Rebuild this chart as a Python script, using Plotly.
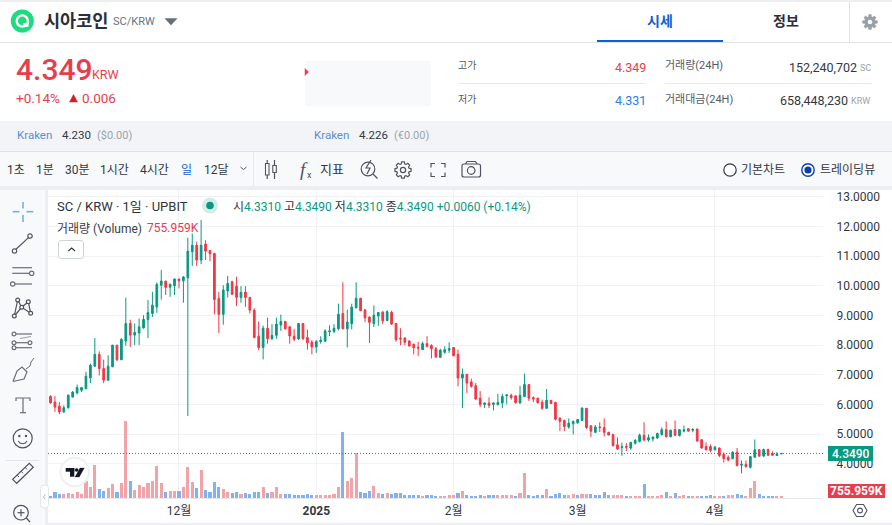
import math
import pandas as pd
import plotly.graph_objects as go

W, H = 892, 525
FONT = "Roboto, 'Noto Sans CJK KR', sans-serif"

# --- data ---
first_day = "2024-11-02"
opens = [
    6.27, 6.08, 5.94, 5.75, 5.89, 6.25, 6.39, 6.48, 6.53, 6.90,
    7.29, 7.69, 7.21, 6.82, 7.27, 8.00, 7.51, 8.14, 8.73, 8.34,
    8.41, 8.58, 8.86, 9.07, 9.29, 10.02, 10.16, 9.95, 10.00, 10.23,
    10.17, 10.27, 11.15, 11.37, 10.87, 11.41, 11.19, 11.09, 9.57, 9.04,
    9.83, 10.14, 9.99, 9.61, 9.79, 9.61, 9.18, 8.30, 7.92, 8.57,
    8.22, 8.33, 8.68, 8.80, 8.62, 8.30, 8.21, 8.73, 8.26, 8.10,
    7.94, 8.12, 8.13, 8.45, 8.46, 8.55, 9.07, 8.55, 8.72, 9.26,
    9.58, 9.19, 8.95, 8.73, 8.98, 9.12, 8.83, 9.11, 8.73, 8.24,
    8.24, 8.14, 8.03, 7.93, 7.85, 8.05, 7.99, 7.88, 7.59, 7.76,
    7.83, 7.92, 7.69, 6.89, 7.02, 6.76, 6.63, 6.21, 6.00, 6.05,
    6.00, 5.99, 6.05, 6.29, 6.31, 6.29, 6.05, 6.27, 6.67, 6.23,
    6.21, 6.07, 5.87, 6.14, 6.07, 5.54, 5.46, 5.24, 5.35, 5.38,
    5.46, 5.87, 5.28, 5.06, 5.24, 5.22, 5.06, 4.99, 4.64, 4.55,
    4.58, 4.53, 4.69, 4.75, 4.96, 4.80, 4.84, 4.87, 4.98, 5.15,
    4.91, 5.15, 4.95, 5.10, 5.18, 5.13, 5.17, 4.81, 4.58, 4.58,
    4.47, 4.53, 4.32, 4.22, 4.17, 4.39, 3.95, 3.98, 3.88, 4.22,
    4.47, 4.26, 4.48, 4.34, 4.28, 4.331,
]
highs = [
    6.31, 6.28, 6.08, 5.97, 6.34, 6.45, 6.67, 6.59, 7.10, 7.38,
    8.24, 7.79, 7.51, 7.66, 8.01, 8.01, 8.24, 9.60, 8.86, 8.73,
    8.90, 9.01, 9.52, 9.80, 10.11, 10.53, 10.17, 10.08, 10.25, 10.25,
    10.33, 11.62, 11.77, 11.49, 12.22, 11.54, 11.20, 11.12, 9.80, 10.02,
    10.34, 10.17, 10.31, 9.99, 9.99, 9.63, 9.24, 8.80, 8.66, 8.93,
    8.71, 8.93, 9.03, 8.82, 8.64, 8.55, 8.75, 8.75, 8.53, 8.17,
    8.17, 8.30, 8.54, 8.67, 8.71, 9.40, 10.12, 9.20, 9.40, 10.12,
    9.60, 9.21, 8.97, 9.34, 9.12, 9.14, 9.18, 9.16, 8.75, 8.57,
    8.27, 8.17, 8.05, 8.11, 8.12, 8.30, 8.03, 7.94, 7.88, 7.96,
    8.10, 7.94, 7.85, 7.21, 7.02, 6.87, 6.72, 6.45, 6.07, 6.24,
    6.07, 6.36, 6.36, 6.34, 6.36, 6.31, 6.63, 7.04, 6.69, 6.27,
    6.23, 6.16, 6.52, 6.14, 6.09, 5.56, 5.49, 5.53, 5.46, 5.51,
    5.90, 5.88, 5.31, 5.31, 5.40, 5.53, 5.08, 5.01, 4.89, 4.71,
    4.70, 4.74, 4.83, 5.02, 5.40, 4.99, 4.92, 5.05, 5.23, 5.43,
    5.15, 5.46, 5.17, 5.29, 5.20, 5.19, 5.19, 4.83, 4.72, 4.65,
    4.60, 4.55, 4.38, 4.28, 4.42, 4.53, 4.11, 4.11, 4.26, 4.82,
    4.50, 4.51, 4.51, 4.42, 4.39, 4.349,
]
lows = [
    6.03, 5.75, 5.67, 5.71, 5.86, 6.23, 6.34, 6.42, 6.53, 6.72,
    7.27, 6.98, 6.72, 6.79, 7.26, 7.46, 7.49, 7.98, 7.94, 8.00,
    8.00, 8.56, 8.24, 8.95, 9.09, 9.54, 9.69, 9.63, 9.69, 9.91,
    9.43, 5.61, 10.67, 10.67, 10.73, 10.87, 10.83, 9.04, 8.41, 8.69,
    9.61, 9.69, 9.32, 9.43, 9.29, 9.07, 8.23, 7.83, 7.52, 8.05,
    8.17, 8.22, 8.48, 8.53, 8.05, 8.13, 8.17, 8.17, 7.85, 7.69,
    7.74, 8.05, 8.12, 8.30, 8.41, 8.50, 8.54, 7.92, 8.53, 9.24,
    9.15, 8.78, 8.07, 8.61, 8.65, 8.71, 8.81, 8.68, 8.12, 8.00,
    8.00, 7.96, 7.69, 7.64, 7.83, 7.92, 7.55, 7.58, 7.57, 7.71,
    7.74, 7.63, 6.61, 5.88, 6.39, 6.57, 6.16, 5.91, 5.88, 5.88,
    5.80, 5.97, 5.87, 6.00, 6.16, 6.03, 6.03, 6.25, 6.12, 6.08,
    6.03, 5.82, 5.86, 6.02, 5.46, 5.10, 5.10, 5.18, 4.99, 5.35,
    5.45, 5.18, 4.90, 5.04, 5.07, 4.92, 4.95, 4.58, 4.47, 4.27,
    4.43, 4.47, 4.65, 4.72, 4.77, 4.74, 4.75, 4.84, 4.96, 4.89,
    4.89, 4.93, 4.92, 5.06, 5.09, 5.06, 4.73, 4.51, 4.45, 4.39,
    4.45, 4.22, 4.04, 4.08, 4.15, 3.91, 3.68, 3.88, 3.84, 4.20,
    4.23, 4.23, 4.26, 4.27, 4.26, 4.331,
]
closes = [
    6.05, 5.91, 5.75, 5.89, 6.31, 6.42, 6.57, 6.57, 6.95, 7.32,
    7.69, 7.21, 6.82, 7.29, 8.00, 7.51, 8.19, 8.73, 8.34, 8.43,
    8.62, 8.87, 9.10, 9.35, 10.05, 10.16, 9.95, 10.05, 10.23, 10.17,
    10.30, 11.17, 11.37, 10.87, 11.37, 11.17, 11.08, 9.54, 9.04, 9.86,
    10.08, 9.72, 9.61, 9.78, 9.61, 9.18, 8.26, 7.92, 8.57, 8.22,
    8.33, 8.71, 8.80, 8.55, 8.31, 8.20, 8.73, 8.22, 8.08, 7.94,
    8.12, 8.17, 8.48, 8.48, 8.57, 9.04, 8.55, 8.78, 9.28, 9.58,
    9.16, 8.92, 8.77, 9.01, 9.10, 8.82, 9.13, 8.71, 8.18, 8.21,
    8.10, 7.97, 7.91, 7.90, 8.05, 7.96, 7.88, 7.60, 7.83, 7.85,
    7.88, 7.64, 6.89, 7.02, 6.72, 6.61, 6.18, 6.00, 6.05, 5.97,
    6.05, 6.07, 6.27, 6.32, 6.23, 6.06, 6.31, 6.67, 6.21, 6.18,
    6.06, 5.87, 6.14, 6.03, 5.50, 5.43, 5.26, 5.37, 5.43, 5.49,
    5.88, 5.22, 5.10, 5.24, 5.22, 5.06, 4.97, 4.61, 4.50, 4.57,
    4.56, 4.72, 4.79, 4.96, 4.80, 4.88, 4.90, 5.02, 5.15, 4.91,
    5.13, 4.96, 5.15, 5.14, 5.10, 5.16, 4.77, 4.53, 4.47, 4.45,
    4.56, 4.28, 4.17, 4.13, 4.39, 3.94, 3.98, 3.90, 4.24, 4.47,
    4.26, 4.48, 4.29, 4.29, 4.33, 4.349,
]
# volume in millions of SC
volumes = [
    1.5, 3.6, 2.5, 2.5, 3.2, 2.7, 3.6, 2.7, 10.5, 6.7,
    20.6, 5.7, 4.6, 6.5, 8.8, 3.6, 9.5, 48.7, 10.9, 5.3,
    8.2, 7.1, 9.2, 10.9, 20.2, 9.2, 3.6, 4.2, 4.6, 4.2,
    7.1, 19.5, 10.1, 6.5, 17.9, 5.3, 3.6, 9.9, 7.1, 5.7,
    3.8, 3.2, 3.8, 2.7, 3.2, 2.7, 3.8, 3.8, 7.1, 3.2,
    3.8, 7.1, 2.7, 2.7, 2.7, 2.1, 2.1, 2.1, 2.7, 2.1,
    1.7, 2.1, 2.1, 2.1, 2.7, 7.1, 41.8, 10.9, 12.8, 28.1,
    3.8, 3.2, 4.2, 7.8, 3.2, 2.7, 3.2, 2.7, 3.2, 3.2,
    2.1, 2.1, 2.1, 2.1, 1.5, 2.1, 2.1, 1.5, 1.3, 1.3,
    1.7, 1.7, 2.9, 4.2, 1.7, 1.3, 1.3, 1.7, 1.3, 1.7,
    1.7, 1.7, 1.7, 1.7, 1.7, 1.3, 3.4, 16.0, 2.1, 1.5,
    1.7, 1.7, 5.7, 1.3, 2.7, 2.9, 2.1, 2.1, 2.5, 1.7,
    2.5, 2.5, 2.5, 1.7, 1.7, 3.8, 1.7, 1.7, 1.9, 1.7,
    1.3, 1.3, 1.3, 1.3, 8.8, 1.5, 1.3, 1.5, 1.7, 3.6,
    1.3, 2.9, 1.5, 1.7, 1.5, 1.5, 1.5, 1.5, 1.5, 1.7,
    1.3, 1.5, 1.5, 1.7, 1.7, 2.7, 2.1, 1.3, 6.3, 10.5,
    2.5, 1.3, 1.1, 1.1, 1.1, 0.756,
]
# colour side of each volume bar, as the site drew it (U blue, D pink)
volume_sides = list(
    "UUUDDDDDDD" "DUUDDUDDUD" "DDDDDDUDDU" "DDDUDUUUUD"
    "DUUDUUUUDU" "DDDUUUUUUU" "DDDDDDUDDD" "UUUDDUDUUU"
    "UUUUDUUU"
    "DDDDUDUUUU" "DUUDDDDUDD" "UUUUDUUUUD" "DUDDUUUUUD"
    "DDUDDDUDDD" "DUDUDDUDDU" "UUDDUDDUUD" "DDUUUUDD"
)
tick_days = ["2024-12-01", "2025-01-01", "2025-02-01", "2025-03-01", "2025-04-01"]
tick_names = ["12월", "<b>2025</b>", "2월", "3월", "4월"]
price_ticks = [4, 5, 6, 7, 8, 9, 10, 11, 12, 13]
last_volume_text = "755.959K"

days = pd.date_range(first_day, periods=len(closes), freq="D")


# --- pixel helpers for the page chrome around the chart ---
def px(x):
    return x / W


def py(y):
    return 1 - y / H


shapes = []
notes = []


def rect(x0, y0, x1, y1, fill, line=None, width=1, layer="below"):
    shapes.append(dict(type="rect", xref="paper", yref="paper", x0=px(x0), x1=px(x1),
                       y0=py(y0), y1=py(y1), fillcolor=fill, layer=layer,
                       line=dict(color=line or fill, width=width if line else 0)))


def rrect(x0, y0, x1, y1, r, fill, line=None, width=1):
    p = (f"M{px(x0 + r)},{py(y0)} L{px(x1 - r)},{py(y0)} Q{px(x1)},{py(y0)} {px(x1)},{py(y0 + r)} "
         f"L{px(x1)},{py(y1 - r)} Q{px(x1)},{py(y1)} {px(x1 - r)},{py(y1)} "
         f"L{px(x0 + r)},{py(y1)} Q{px(x0)},{py(y1)} {px(x0)},{py(y1 - r)} "
         f"L{px(x0)},{py(y0 + r)} Q{px(x0)},{py(y0)} {px(x0 + r)},{py(y0)} Z")
    shapes.append(dict(type="path", xref="paper", yref="paper", path=p, fillcolor=fill,
                       line=dict(color=line or fill, width=width if line else 0)))


def poly(points, color="#50535e", width=1.2, fill=None, close=False):
    p = "M" + " L".join(f"{px(x)},{py(y)}" for x, y in points) + (" Z" if close else "")
    shapes.append(dict(type="path", xref="paper", yref="paper", path=p,
                       fillcolor=fill or "rgba(0,0,0,0)",
                       line=dict(color=color, width=width)))


def circle(cx, cy, r, color="#50535e", width=1.2, fill=None):
    shapes.append(dict(type="circle", xref="paper", yref="paper",
                       x0=px(cx - r), x1=px(cx + r), y0=py(cy + r), y1=py(cy - r),
                       fillcolor=fill or "rgba(0,0,0,0)",
                       line=dict(color=color, width=width)))


def text(x, y, s, size=12, color="#333842", anchor="left", family=FONT, weight=400):
    # annotations sit about a pixel inside their anchor
    if anchor == "left":
        x -= 1
    elif anchor == "right":
        x += 1
    notes.append(dict(xref="paper", yref="paper", x=px(x), y=py(y), text=s, showarrow=False,
                      xanchor=anchor, yanchor="middle", borderpad=0,
                      font=dict(size=size, color=color, family=family, weight=weight)))


def gear(cx, cy, r_out, r_in, color, width=1.2, fill=None):
    pts = []
    for i in range(8):
        a = i * math.pi / 4
        for da, r in ((-0.30, r_in), (-0.16, r_out), (0.16, r_out), (0.30, r_in)):
            pts.append((cx + r * math.cos(a + da), cy + r * math.sin(a + da)))
    poly(pts, color, width, fill, close=True)


RED, BLUE, GREY = "#e63e4c", "#1a73e8", "#9ea3ab"
TEAL = "#089981"
PANEL = "#f8f9fb"
DIVIDER = "#e0e2e6"

# page background bands
rect(0, 0, W, 2, "#eceef2")
rect(0, 42, W, 43, DIVIDER)
rect(0, 121, W, 151, "#f2f4f7")
rect(0, 151, W, 152, DIVIDER)
rect(0, 152, W, 186, PANEL)
rect(0, 186, W, 190, "#eceef2")
rect(0, 190, 45, H, PANEL)
rect(45, 190, 48, H, "#eceef2")
rect(48, 523, W, H, "#eceef2")

# header row
circle(22.3, 21, 11.5, "#1fdb7f", 0, "#1fdb7f")
circle(22.3, 21, 5.6, "white", 2.4)
rect(23.5, 23, 28.6, 26.8, "white", layer="above")
text(44, 21, "<b>시아코인</b>", 17.5, "#2a2e39")
text(113, 21, "SC/KRW", 11, "#6b7280")
poly([(165, 18.5), (177, 18.5), (171, 25)], "#666e7a", 0.5, "#666e7a", close=True)
text(660, 21, "<b>시세</b>", 14, "#0b62d6", "center")
rect(597, 40, 723, 42, "#0b62d6")
text(786, 21, "<b>정보</b>", 14, "#2a2e39", "center")
rect(849, 2, 850, 42, DIVIDER)
gear(870, 22, 7.5, 5.4, "#9aa0a8", 0.5, "#9aa0a8")
circle(870, 22, 2.3, "white", 0, "white")

# price block
text(16, 69, "4.349", 30, RED, weight=500)
text(92, 75, "KRW", 12.5, RED)
text(16, 98, "+0.14%", 13.5, RED)
poly([(69.5, 102), (77.5, 102), (73.5, 94.5)], "#d1202f", 0.5, "#d1202f", close=True)
text(82, 98, "0.006", 13.5, RED)
rect(305, 61, 431, 106, PANEL)
poly([(305, 68.5), (308.5, 72), (305, 75.5)], RED, 0.5, RED, close=True)

# high / low block
text(458, 66, "고가", 10, "#555b66")
text(646, 67, "4.349", 12.5, RED, "right")
rect(458, 83, 646, 84, "#e8e9ec")
text(458, 99, "저가", 10, "#555b66")
text(646, 100, "4.331", 12.5, "#2b7de9", "right")
text(665, 66, "거래량(24H)", 11, "#555b66")
text(857, 67, "152,240,702", 12.5, "#333842", "right")
text(860, 68, "SC", 9, GREY)
rect(665, 83, 871, 84, "#e8e9ec")
text(665, 99, "거래대금(24H)", 11, "#555b66")
text(848, 100, "658,448,230", 12.5, "#333842", "right")
text(851, 101, "KRW", 9, GREY)

# exchange strip
text(17, 134.5, "Kraken", 11.5, "#5a8fd0")
text(62, 134.5, "4.230", 11.5, "#333842")
text(97, 135, "($0.00)", 11, GREY)
text(314, 134.5, "Kraken", 11.5, "#5a8fd0")
text(359, 134.5, "4.226", 11.5, "#333842")
text(394, 135, "(€0.00)", 11, GREY)

# top toolbar
for x, label, color in [(7, "1초", "#333842"), (36, "1분", "#333842"), (65, "30분", "#333842"),
                        (100, "1시간", "#333842"), (140, "4시간", "#333842"),
                        (181, "일", "#1a5fd0"), (204, "12달", "#333842")]:
    text(x, 170, label, 12, color)
poly([(240.5, 167), (243.5, 169.5), (246.5, 167)], "#555b66", 1)
rect(253, 152, 254, 186, "#e8e9ec")
poly([(267.2, 160), (267.2, 163.5)], "#50535e")
poly([(267.2, 175), (267.2, 179)], "#50535e")
rect(265.5, 163.5, 269, 175, "white", "#50535e", 1.1, layer="above")
poly([(274.5, 160), (274.5, 165.5)], "#50535e")
poly([(274.5, 172.5), (274.5, 179)], "#50535e")
rect(272.8, 165.5, 276.3, 172.5, "white", "#50535e", 1.1, layer="above")
text(300, 169, "<i>f</i>", 19, "#50535e", family="'Liberation Serif', serif")
text(307, 175, "x", 9, "#50535e")
text(320, 170, "지표", 13, "#333842")
circle(368, 169, 6.8)
poly([(373, 174), (377.5, 178.5)])
poly([(371, 160), (366, 168), (370, 168), (367, 174)])
gear(403, 170, 8.2, 6.3, "#50535e")
circle(403, 170, 2.6)
for cx, cy, dx, dy in [(431, 163.5, 1, 1), (445, 163.5, -1, 1), (431, 176.5, 1, -1), (445, 176.5, -1, -1)]:
    poly([(cx + 4 * dx, cy), (cx, cy), (cx, cy + 4 * dy)])
rrect(462, 164, 480.5, 177, 2, "rgba(0,0,0,0)", "#50535e", 1.2)
poly([(465.5, 164), (467, 161.5), (475.5, 161.5), (477, 164)])
circle(471.2, 170.5, 3.8)
circle(730, 170, 6.2, "#333842", 1.2, "white")
text(741, 170, "기본차트", 12, "#333842")
circle(808, 170, 6.2, "#0b3fa8", 1.4, "white")
circle(808, 170, 3.6, "#0b3fa8", 0, "#0b3fa8")
text(820, 170, "트레이딩뷰", 12, "#333842")

# left drawing toolbar
for seg in [[(23, 202), (23, 208.5)], [(23, 215), (23, 222)], [(12.7, 211.7), (19.5, 211.7)], [(26.5, 211.7), (33.3, 211.7)]]:
    poly(seg, "#74aef0", 1.6)
poly([(16, 249.3), (28.5, 237.6)])
circle(14.5, 251, 2.2)
circle(30, 236, 2.2)
for y, x0, x1 in [(267.7, 12.3, 32), (273.3, 12.3, 29.3), (284, 15, 32)]:
    poly([(x0, y), (x1, y)], "#6a6d78", 1.2)
circle(31.7, 273.3, 2.2, "#6a6d78")
circle(12.7, 284, 2.2, "#6a6d78")
poly([(14.3, 316), (17.7, 300), (21.7, 307.3), (28.3, 301.7), (30.7, 313.3), (21.7, 307.3), (14.3, 316)])
for cx, cy in [(14.3, 316), (17.7, 300), (21.7, 307.3), (28.3, 301.7), (30.7, 313.3)]:
    circle(cx, cy, 1.9, fill=PANEL)
poly([(16, 334), (32, 334)], "#6a6d78")
poly([(16, 342.7), (28, 342.7)], "#6a6d78")
poly([(16, 347.7), (32, 347.7)], "#6a6d78")
poly([(20, 338.5), (31, 336.5)], "#9a9da6", 1)
for cx, cy in [(14, 334), (14, 342.7), (14, 347.7), (30, 342.7)]:
    circle(cx, cy, 1.9, "#6a6d78", fill=PANEL)
poly([(13, 381.5), (17, 371), (22, 367), (27, 372), (24, 379), (13, 381.5)], "#6a6d78")
poly([(26, 369), (30, 366), (31, 362), (34, 358)], "#6a6d78", 1)
poly([(16, 401), (16, 398), (30, 398), (30, 401)], "#6a6d78")
poly([(23, 398), (23, 412.7)], "#6a6d78")
poly([(20, 412.7), (26, 412.7)], "#6a6d78")
circle(22.7, 438.3, 9.5, "#50535e")
circle(19.3, 436, 0.6, "#50535e")
circle(26, 436, 0.6, "#50535e")
poly([(18.3, 441), (20, 443), (22.7, 443.8), (25.4, 443), (27, 441)], "#50535e", 1.1)
rect(6, 460, 39, 461, "#e3e5ea")
poly([(12.7, 479.3), (16.7, 483.3), (33.3, 467.3), (29.3, 463.3)], "#50535e", 1.2, close=True)
for tx, ty in [(17, 475), (21, 471.2), (25, 467.4)]:
    poly([(tx, ty), (tx + 2, ty + 2)], "#50535e", 1)
circle(21, 512.7, 7.3)
poly([(26.3, 518), (30, 522)])
poly([(17.5, 512.7), (24.5, 512.7)])
poly([(21, 509.2), (21, 516.2)])
rrect(40.5, 485, 48.5, 508, 3.5, "#ffffff", "#e4e6ea", 1)
poly([(45.4, 494.5), (43.4, 497), (45.4, 499.5)], "#b6b9c0", 1)

# chart header
text(57, 206, "SC / KRW · 1일 · UPBIT", 13, "#2f333d")
circle(210, 205.5, 8, "#d5ece7", 0, "#d5ece7")
circle(210, 205.5, 3.8, TEAL, 0, TEAL)
val = lambda s: f'<span style="color:{TEAL}">{s}</span>'
text(233, 206.5, "시" + val("4.3310") + " 고" + val("4.3490") + " 저" + val("4.3310")
     + " 종" + val("4.3490") + " " + val("+0.0060 (+0.14%)"), 12, "#2f333d")
text(57, 229, "거래량 (Volume)", 12, "#3a3e48")
text(147, 227.5, last_volume_text, 12, RED)
rrect(58.5, 240.5, 83.5, 258.5, 2.5, "#ffffff", "#cfd3dc", 1)
poly([(68.3, 251), (71.7, 248), (75, 251)], "#2f333d", 1.1)

# price marker, tags and small marks over the chart
shapes.append(dict(type="line", xref="paper", yref="y", x0=px(48), x1=px(823),
                   y0=closes[-1], y1=closes[-1], layer="above",
                   line=dict(color=TEAL, width=1, dash="1px,2px")))
rect(828, 446, 873, 461, TEAL, layer="above")
text(850.5, 453.5, f"{closes[-1]:.4f}", 12, "white", "center", weight=500)
rect(828, 484, 885, 498, RED, layer="above")
text(856.5, 491, f"<b>{last_volume_text}</b>", 12, "white", "center")
circle(74.7, 472, 14.2, "#eef0f4", 2, "white")
rect(65.7, 468, 74.3, 471.7, "#131722", layer="above")
rect(70, 468, 74.3, 476.7, "#131722", layer="above")
circle(76.7, 470, 1.8, "#131722", 0, "#131722")
poly([(80, 468), (84.3, 468), (79.3, 477), (75, 477)], "#131722", 0.3, "#131722", close=True)
poly([(853, 510.5), (856.5, 504.5), (863.5, 504.5), (867, 510.5), (863.5, 516.5), (856.5, 516.5)], "#50535e", 1.1, close=True)
circle(860, 510.5, 2.4, "#50535e", 1.1)

# --- chart ---
fig = go.Figure()
fig.add_trace(go.Candlestick(
    x=days, open=opens, high=highs, low=lows, close=closes,
    increasing=dict(line=dict(color=TEAL, width=1), fillcolor=TEAL),
    decreasing=dict(line=dict(color="#f23645", width=1), fillcolor="#f23645"),
    whiskerwidth=0, showlegend=False, yaxis="y",
))
fig.add_trace(go.Bar(
    x=days, y=volumes, width=0.7 * 86400000, yaxis="y2", showlegend=False,
    marker=dict(color=["#7fb2ef" if s == "U" else "#f2a3a8" for s in volume_sides], line_width=0),
))

fig.update_layout(
    width=W, height=H, autosize=False,
    margin=dict(l=0, r=0, t=0, b=0),
    paper_bgcolor="white", plot_bgcolor="white",
    font=dict(family=FONT, size=12, color="#333842"),
    showlegend=False, bargap=0, boxgap=0.45,
    xaxis=dict(
        domain=[px(48), px(823)], range=["2024-11-01 10:19", "2025-04-25 09:36"],
        rangeslider=dict(visible=False), tickmode="array", tickvals=tick_days, ticktext=tick_names,
        showgrid=True, gridcolor="#f1f2f5", gridwidth=1, zeroline=False,
        showline=True, linecolor="#e6e8ec", ticks="outside", ticklen=2, tickcolor="rgba(0,0,0,0)",
        tickfont=dict(size=12, color="#333842"),
    ),
    yaxis=dict(
        domain=[py(498), py(190)], range=[2.845, 13.233], side="right",
        tickmode="array", tickvals=price_ticks, tickformat=".4f",
        showgrid=True, gridcolor="#f1f2f5", gridwidth=1, zeroline=False, showline=False,
        ticks="outside", ticklen=10, tickcolor="rgba(0,0,0,0)",
        tickfont=dict(size=12, color="#333842"),
    ),
    yaxis2=dict(domain=[py(498), py(190)], range=[0, 194], overlaying="y", visible=False),
    shapes=shapes, annotations=notes,
)

fig.write_html("out.html", config=dict(displayModeBar=False),
               post_script="document.body.style.margin='0';")
